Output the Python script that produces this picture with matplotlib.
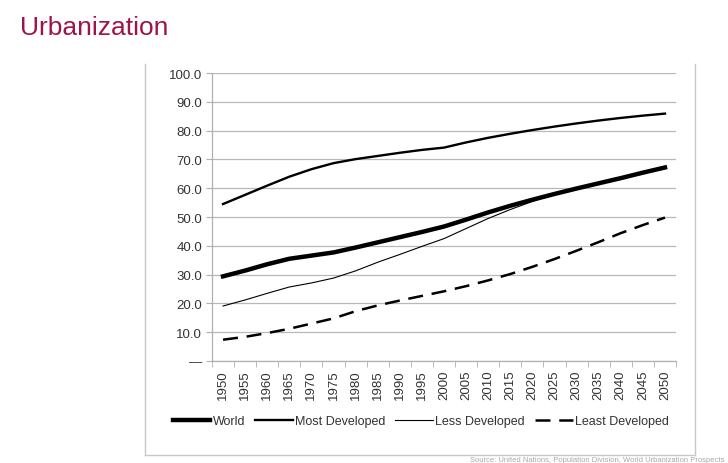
import numpy as np
import matplotlib
matplotlib.use("Agg")
import matplotlib.pyplot as plt
from matplotlib.lines import Line2D

# --- data (percent urban) ---
years = [str(y) for y in range(1950, 2051, 5)]
world = [29.4, 31.4, 33.6, 35.5, 36.6, 37.7, 39.4, 41.2, 43.0, 44.8, 46.7,
         49.1, 51.6, 53.9, 56.0, 58.0, 59.9, 61.7, 63.5, 65.4, 67.2]
most_dev = [54.5, 57.7, 60.9, 64.0, 66.6, 68.7, 70.1, 71.2, 72.3, 73.3, 74.1,
            75.9, 77.5, 78.9, 80.2, 81.4, 82.5, 83.5, 84.4, 85.2, 85.9]
less_dev = [19.1, 21.2, 23.5, 25.7, 27.1, 28.8, 31.3, 34.3, 37.0, 39.8, 42.5,
            46.0, 49.5, 52.6, 55.4, 58.0, 59.9, 61.7, 63.5, 65.3, 67.0]
least_dev = [7.4, 8.4, 9.7, 11.2, 13.0, 14.8, 17.3, 19.3, 21.0, 22.6, 24.2,
             26.0, 28.0, 30.2, 32.7, 35.4, 38.3, 41.3, 44.4, 47.2, 49.8]
yticks = [0, 10, 20, 30, 40, 50, 60, 70, 80, 90, 100]
series_names = ["World", "Most Developed", "Less Developed", "Least Developed"]

plt.rcParams['font.family'] = ['Liberation Sans', 'DejaVu Sans']

fig = plt.figure(figsize=(7.28, 4.64), dpi=100)
ax = fig.add_axes([0.2912, 0.2198, 0.6374, 0.6207])

x = np.arange(len(years))
ax.plot(x, world, color='black', lw=3.2, label=series_names[0])
ax.plot(x, most_dev, color='black', lw=1.7, label=series_names[1])
ax.plot(x, less_dev, color='black', lw=0.8, label=series_names[2])
ax.plot(x, least_dev, color='black', lw=1.8, dashes=(6, 3.5), label=series_names[3])

ax.set_xlim(-0.5, len(years) - 0.5)
ax.set_ylim(0, 100)
ax.set_yticks(yticks)
ax.set_yticklabels(["\u2014" if v == 0 else f"{v:.1f}" for v in yticks],
                   fontsize=9.5, color='#333333')
ax.set_xticks(x)
ax.set_xticklabels(years, rotation=90, fontsize=9.5, color='#333333')
ax.set_xticks(np.arange(-0.5, len(years)), minor=True)
ax.tick_params(axis='x', which='major', length=0, pad=6)
ax.tick_params(axis='x', which='minor', length=4, color='#b0b0b0')
ax.tick_params(axis='y', length=4, color='#b0b0b0', pad=3)

ax.grid(axis='y', color='#b8b8b8', lw=0.9)
ax.set_axisbelow(True)
for side in ['top', 'right']:
    ax.spines[side].set_visible(False)
for side in ['left', 'bottom']:
    ax.spines[side].set_color('#b0b0b0')
    ax.spines[side].set_linewidth(0.9)

fig.legend(loc='center', bbox_to_anchor=(0.578, 0.0905), ncol=4, frameon=False,
           fontsize=9, handlelength=3.0, handletextpad=0.2, columnspacing=0.8,
           labelcolor='#333333')

# frame around the chart region
frame_kw = dict(color='#c8c8c8', lw=1.0, transform=fig.transFigure)
fig.add_artist(Line2D([0.199, 0.199], [0.0172, 0.86], **frame_kw))
fig.add_artist(Line2D([0.9547, 0.9547], [0.0172, 0.86], **frame_kw))
fig.add_artist(Line2D([0.199, 0.9547], [0.0172, 0.0172], **frame_kw))

fig.text(0.0275, 0.9246, "Urbanization", fontsize=19, color='#a0134a',
         ha='left', va='baseline')
fig.text(0.995, 0.001, "Source: United Nations, Population Division, World Urbanization Prospects",
         fontsize=5.5, color='#a8a8a8', ha='right', va='bottom')

fig.savefig("out.png", dpi=100)
